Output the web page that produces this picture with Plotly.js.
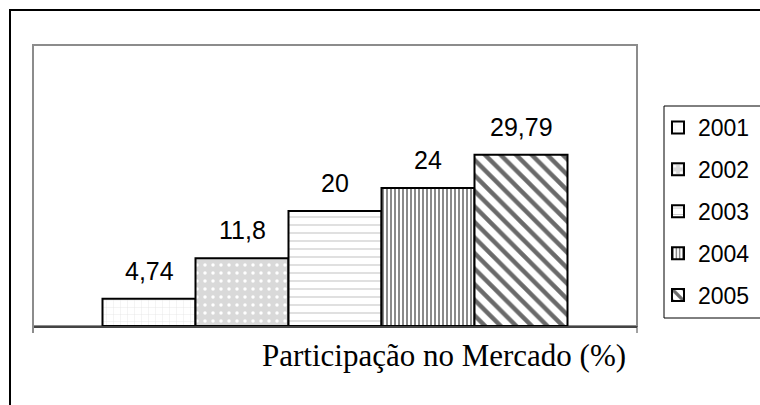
<!DOCTYPE html>
<html>
<head>
<meta charset="utf-8">
<script src="https://cdn.plot.ly/plotly-3.0.1.min.js"></script>
<style>
html,body{margin:0;padding:0;background:#fff;}
#chart{width:760px;height:405px;}
</style>
</head>
<body>
<div id="chart"></div>
<script>
// ---- data ----
var years = [2001, 2002, 2003, 2004, 2005];
var values = [4.74, 11.8, 20, 24, 29.79];
var labels = ["4,74", "11,8", "20", "24", "29,79"];
var seriesNames = ["2001", "2002", "2003", "2004", "2005"];
var axisTitle = "Participação no Mercado (%)";

// ---- styles ----
var patterns = [
  {shape: "+", bgcolor: "#ffffff", fgcolor: "#e0e0e0", size: 7, solidity: 0.1},
  {shape: ".", bgcolor: "#d9d9d9", fgcolor: "#ffffff", size: 8, solidity: 0.15},
  {shape: "-", bgcolor: "#ffffff", fgcolor: "#c4c4c4", size: 8, solidity: 0.13},
  {shape: "|", bgcolor: "#ffffff", fgcolor: "#8a8a8a", size: 4, solidity: 0.5},
  {shape: "\\", bgcolor: "#ffffff", fgcolor: "#6a6a6a", size: 11, solidity: 0.4}
];

var L = 33, R = 637, T = 45, B = 326, W = 760, H = 405;
var pw = R - L, ph = B - T;
function px(x){ return (x - L) / pw; }
function py(y){ return (B - y) / ph; }

var traces = years.map(function(yr, i){
  return {
    type: "bar",
    name: seriesNames[i],
    x: [yr],
    y: [values[i]],
    width: 1,
    legendgroup: "g" + i,
    marker: {
      color: patterns[i].bgcolor,
      line: {color: "#000", width: 2},
      pattern: patterns[i]
    },
    hoverinfo: "none"
  };
});

var annotations = years.map(function(yr, i){
  return {
    x: yr, y: values[i], xref: "x", yref: "y",
    text: labels[i], showarrow: false,
    yanchor: "middle", yshift: 28,
    font: {family: "Liberation Sans, Arial, sans-serif", size: 25, color: "#000"}
  };
});
annotations.push({
  x: px(444), y: py(355), xref: "paper", yref: "paper",
  text: axisTitle, showarrow: false, xanchor: "center", yanchor: "middle",
  font: {family: "Liberation Serif, Times New Roman, serif", size: 31, color: "#000"}
});

var shapes = [
  // outer chart border
  {type: "rect", xref: "paper", yref: "paper", x0: px(10), x1: px(780), y0: py(420), y1: py(10),
   line: {color: "#000", width: 2}, fillcolor: "rgba(0,0,0,0)", layer: "below"},
  // plot area border
  {type: "rect", xref: "paper", yref: "paper", x0: 0, x1: 1, y0: 0, y1: 1,
   line: {color: "#8c8c8c", width: 2}, fillcolor: "rgba(0,0,0,0)", layer: "below"},
  // small ticks below axis ends
  {type: "line", xref: "paper", yref: "paper", x0: 0, x1: 0, y0: 0, y1: py(333), line: {color: "#8c8c8c", width: 2}},
  {type: "line", xref: "paper", yref: "paper", x0: 1, x1: 1, y0: 0, y1: py(333), line: {color: "#444", width: 1}},
  // legend box
  {type: "rect", xref: "paper", yref: "paper", x0: px(664), x1: px(780), y0: py(318), y1: py(106),
   line: {color: "#000", width: 1}, fillcolor: "rgba(0,0,0,0)"}
];

var halfSpan = (pw / 93) / 2;
var layout = {
  width: W, height: H,
  margin: {l: L, r: W - R, t: T, b: H - B, pad: 0, autoexpand: false},
  paper_bgcolor: "#fff", plot_bgcolor: "#fff",
  barmode: "overlay", bargap: 0,
  showlegend: true,
  legend: {
    x: px(658), xanchor: "left", y: py(106), yanchor: "top",
    bgcolor: "rgba(0,0,0,0)", borderwidth: 0,
    traceorder: "grouped", tracegroupgap: 9,
    font: {family: "Liberation Sans, Arial, sans-serif", size: 23, color: "#000"}
  },
  xaxis: {
    range: [2003 - halfSpan, 2003 + halfSpan],
    showgrid: false, zeroline: false, showticklabels: false, ticks: "",
    showline: true, linecolor: "#444", linewidth: 2, fixedrange: true
  },
  yaxis: {
    range: [0, ph / 5.75],
    showgrid: false, zeroline: false, showticklabels: false, ticks: "",
    showline: false, fixedrange: true
  },
  annotations: annotations,
  shapes: shapes,
  font: {family: "Liberation Sans, Arial, sans-serif"}
};

Plotly.newPlot("chart", traces, layout, {staticPlot: true, displayModeBar: false});
</script>
</body>
</html>
